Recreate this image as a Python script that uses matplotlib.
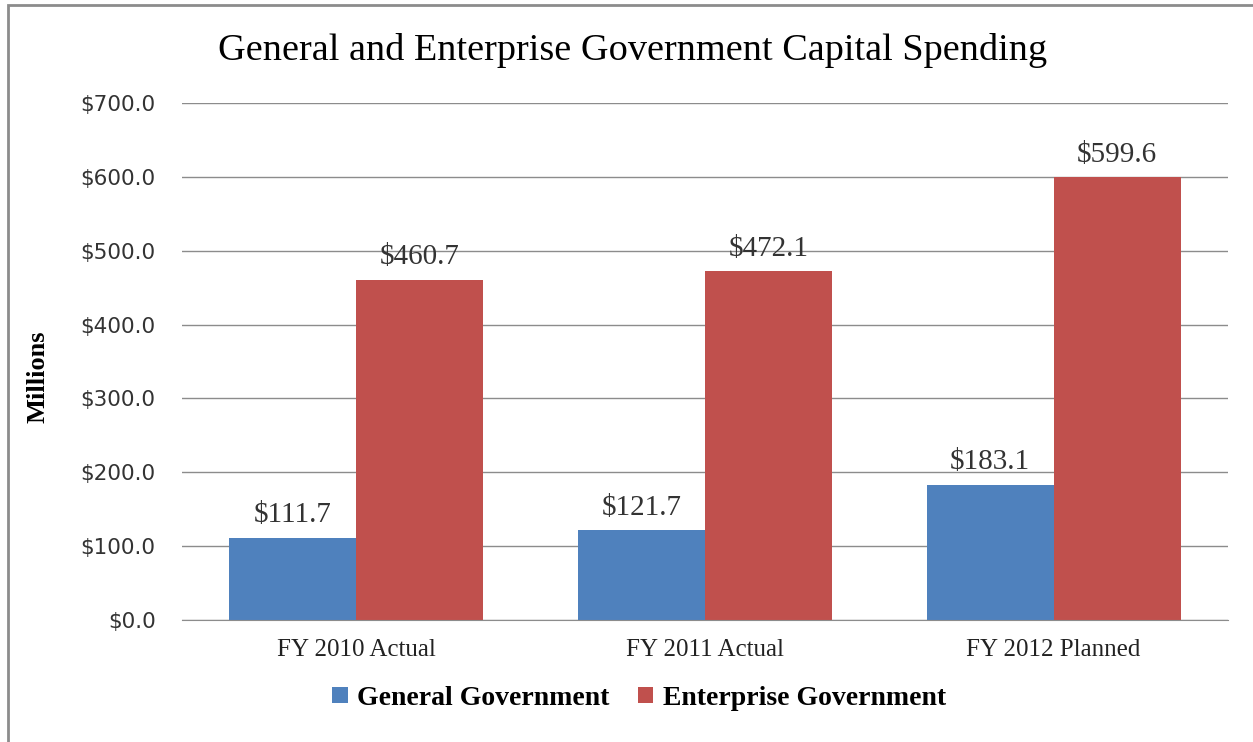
import matplotlib
matplotlib.use("Agg")
import matplotlib.pyplot as plt
import numpy as np

categories = ["FY 2010 Actual", "FY 2011 Actual", "FY 2012 Planned"]
general = [111.7, 121.7, 183.1]
enterprise = [460.7, 472.1, 599.6]
series_names = ["General Government", "Enterprise Government"]
yticks = [0, 100, 200, 300, 400, 500, 600, 700]

blue = "#4F81BD"
red = "#C0504D"
serif = ["Liberation Serif", "DejaVu Serif"]

fig = plt.figure(figsize=[12.53, 7.42], dpi=100)
ax = fig.add_axes([0.1453, 0.1644, 0.8347, 0.6968])

x = np.arange(len(categories))
w = 0.364
b1 = ax.bar(x - w/2, general, w, color=blue, label=series_names[0])
b2 = ax.bar(x + w/2, enterprise, w, color=red, label=series_names[1])

# value labels above each bar
for bars in (b1, b2):
    for r in bars:
        ax.annotate("$%.1f" % r.get_height(), (r.get_x() + r.get_width()/2, r.get_height()),
                    xytext=(0, 11), textcoords="offset points", ha="center", va="baseline",
                    fontsize=21, family=serif, color="#333333")

ax.set_xlim(-0.5, 2.5)
ax.set_ylim(0, 700)
ax.set_yticks(yticks)
ax.set_yticklabels(["$%.1f" % v for v in yticks], fontsize=15.5, family="DejaVu Sans", color="#333333")
ax.set_xticks(x)
ax.set_xticklabels(categories, fontsize=18, family=serif, color="#222222")
ax.tick_params(length=0, pad=14)
ax.tick_params(axis="y", pad=19)
ax.yaxis.grid(True, color="#8c8c8c", lw=1)
ax.set_axisbelow(True)
for s in ["top", "right", "left"]:
    ax.spines[s].set_visible(False)
ax.spines["bottom"].set_color("#8c8c8c")

ax.set_ylabel("Millions", fontsize=19, family=serif, weight="bold")
ax.yaxis.set_label_coords(-0.127, 0.47)
fig.text(0.505, 0.932, "General and Enterprise Government Capital Spending",
         ha="center", va="center", fontsize=27.5, family=serif)

leg = fig.legend(handles=[b1, b2], loc="center", bbox_to_anchor=(0.51, 0.059), ncol=2,
                 frameon=False, prop={"family": serif, "size": 20, "weight": "bold"},
                 handlelength=0.55, handleheight=0.55, handletextpad=0.35, columnspacing=1.0)

# grey frame around the chart
fig.patches.append(plt.Rectangle((0.006, -0.01), 1.5, 1.0035, transform=fig.transFigure,
                                 fill=False, edgecolor="#8c8c8c", lw=2))
fig.savefig("out.png", dpi=100)
